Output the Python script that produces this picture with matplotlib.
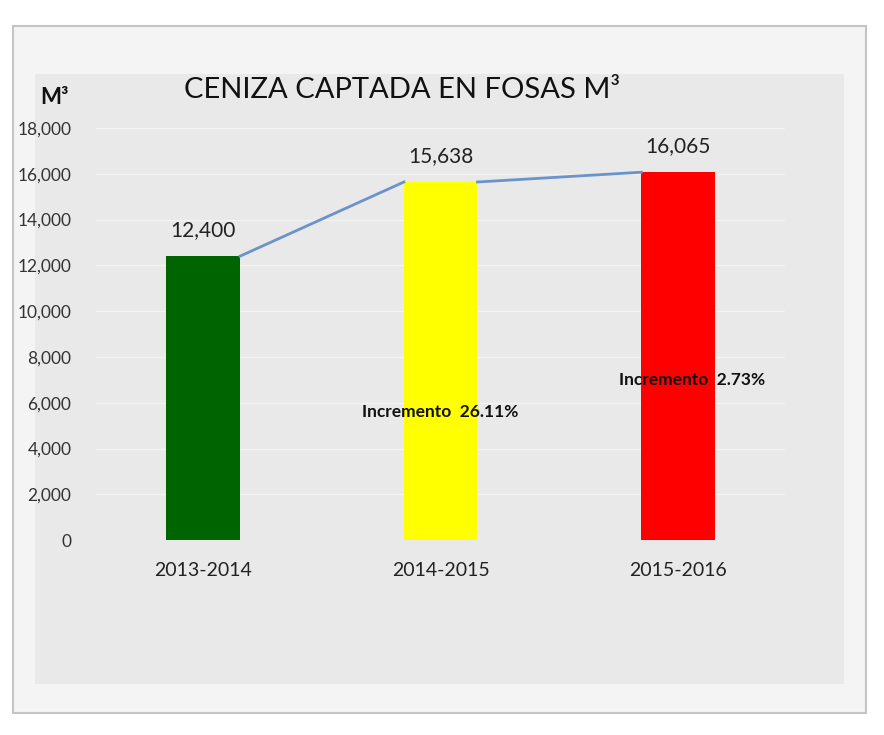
import matplotlib.pyplot as plt
from matplotlib.patches import Rectangle

# data
periods = ["2013-2014", "2014-2015", "2015-2016"]
ash_m3 = [12400, 15638, 16065]
bar_colors = ["#006400", "#ffff00", "#ff0000"]
increments = ["", "Incremento  26.11%", "Incremento  2.73%"]
y_ticks = [0, 2000, 4000, 6000, 8000, 10000, 12000, 14000, 16000, 18000]

plt.rcParams["font.family"] = ["Lato", "DejaVu Sans"]

fig = plt.figure(figsize=(8.84, 7.35), dpi=100)
fig.patch.set_facecolor("white")

# card behind the chart
fig.patches.append(Rectangle((0.015, 0.03), 0.965, 0.935, transform=fig.transFigure,
                             facecolor="#f4f4f4", edgecolor="#c4c4c4", lw=1.5, zorder=-2))
fig.patches.append(Rectangle((0.04, 0.07), 0.915, 0.83, transform=fig.transFigure,
                             facecolor="#e9e9e9", edgecolor="none", zorder=-1))

ax = fig.add_axes([0.109, 0.265, 0.779, 0.561])
ax.set_facecolor("none")

x = range(len(periods))
w = 0.31
ax.bar(x, ash_m3, width=w, color=bar_colors, zorder=3)

# connecting lines between bar tops
for i in range(len(ash_m3) - 1):
    ax.plot([i + w / 2, i + 1 - w / 2], [ash_m3[i], ash_m3[i + 1]],
            color="#6b93c9", lw=2, zorder=4)

for i, v in enumerate(ash_m3):
    ax.text(i, v + 700, f"{v:,}", ha="center", va="bottom", fontsize=15, color="#222222")

ax.text(1, 5600, increments[1], ha="center", va="center", fontsize=12.5,
        fontweight="bold", color="#111111", zorder=5)
ax.text(2.06, 7000, increments[2], ha="center", va="center", fontsize=12.5,
        fontweight="bold", color="#111111", zorder=5)

ax.set_xlim(-0.45, 2.45)
ax.set_ylim(0, 18000)
ax.set_yticks(y_ticks)
ax.set_yticklabels([f"{t:,}" for t in y_ticks], fontsize=12.5, color="#333333")
ax.set_xticks(list(x))
ax.set_xticklabels(periods, fontsize=14, color="#222222")
ax.tick_params(axis="y", length=0, pad=18)
ax.tick_params(axis="x", length=0, pad=16)
ax.yaxis.grid(True, color="#f3f3f3", lw=1, zorder=0)
for s in ax.spines.values():
    s.set_visible(False)

fig.text(0.455, 0.877, "CENIZA CAPTADA EN FOSAS M³", ha="center", va="center",
         fontsize=21, color="#111111")
fig.text(0.062, 0.868, "M³", ha="center", va="center", fontsize=16,
         fontweight="bold", color="#111111")

fig.savefig("out.png", dpi=100)
